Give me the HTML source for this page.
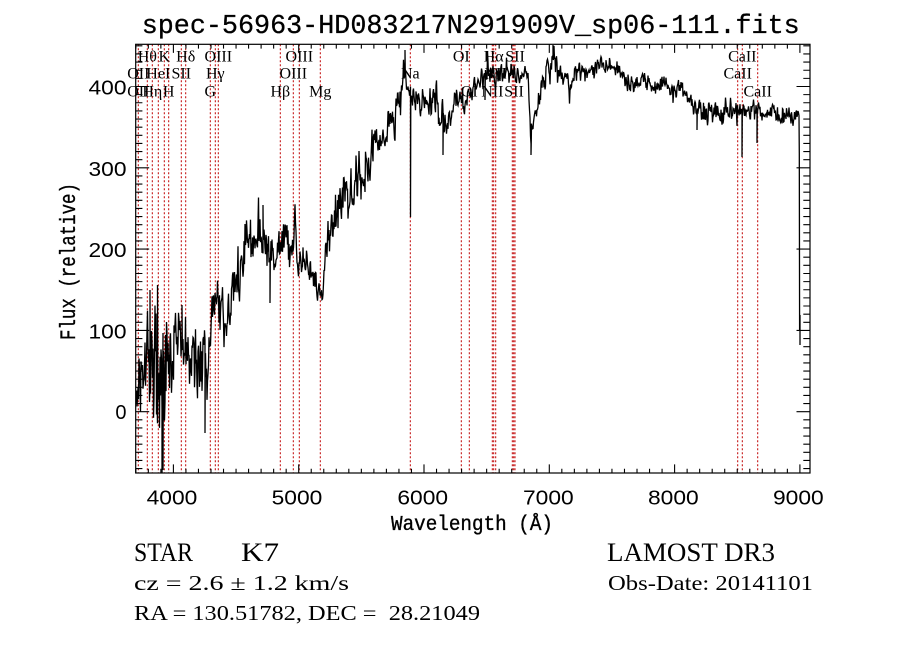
<!DOCTYPE html>
<html>
<head>
<meta charset="utf-8">
<style>
  html, body { margin: 0; padding: 0; background: #fff; }
  body { width: 900px; height: 649px; overflow: hidden; position: relative; }
  svg { position: absolute; left: 0; top: 0; }
  .mono { font-family: "Liberation Mono", monospace; fill: #000; }
  .sans { font-family: "Liberation Sans", sans-serif; fill: #000; }
  .serif { font-family: "Liberation Serif", serif; fill: #000; }
</style>
</head>
<body>
<svg id="chart" width="900" height="649" viewBox="0 0 900 649" xmlns="http://www.w3.org/2000/svg">
  <defs>
    <clipPath id="plotclip"><rect x="135.7" y="44.3" width="674.3" height="428.7"/></clipPath>
  </defs>
  <rect x="0" y="0" width="900" height="649" fill="#fff"/>

  <text class="mono" x="141.7" y="33" font-size="27" stroke="#000" stroke-width="0.3" textLength="658" lengthAdjust="spacingAndGlyphs">spec-56963-HD083217N291909V_sp06-111.fits</text>

  <g id="redlines" stroke="#c00000" stroke-width="1" stroke-dasharray="2,2" fill="none"></g>

  <g class="serif" font-size="16" text-anchor="middle">
    <text x="147.3" y="61.5">Hθ</text>
    <text x="164.3" y="61.5">K</text>
    <text x="185.7" y="61.5">Hδ</text>
    <text x="218.3" y="61.5">OIII</text>
    <text x="299.3" y="61.5">OIII</text>
    <text x="461.3" y="61.5">OI</text>
    <text x="493.7" y="61.5">Hα</text>
    <text x="515" y="61.5">SII</text>
    <text x="742.3" y="61.5">CaII</text>
    <text x="138.3" y="78.5">OII</text>
    <text x="158.3" y="78.5">HeI</text>
    <text x="181.3" y="78.5">SII</text>
    <text x="215.3" y="78.5">Hγ</text>
    <text x="293.3" y="78.5">OIII</text>
    <text x="410.3" y="78.5">Na</text>
    <text x="495.7" y="78.5">NII</text>
    <text x="737.7" y="78.5">CaII</text>
    <text x="138.3" y="96.5">OII</text>
    <text x="152.3" y="96.5">Hη</text>
    <text x="168.7" y="96.5">H</text>
    <text x="210.3" y="96.5">G</text>
    <text x="280.3" y="96.5">Hβ</text>
    <text x="320.3" y="96.5">Mg</text>
    <text x="469.3" y="96.5">OI</text>
    <text x="492.3" y="96.5">NII</text>
    <text x="514" y="96.5">SII</text>
    <text x="757.7" y="96.5">CaII</text>
  </g>

  <g clip-path="url(#plotclip)">
    <path id="spec" d="" fill="none" stroke="#000" stroke-width="1.3" stroke-linejoin="miter"/>
  </g>

  <rect x="135.7" y="44.3" width="674.3" height="428.7" fill="none" stroke="#000" stroke-width="1.2"/>
  <g id="ticks" stroke="#000" stroke-width="1.1" fill="none"></g>

  <g class="sans" font-size="20" text-anchor="end">
    <text x="126.5" y="419">0</text>
    <text x="126.5" y="338.3" textLength="38" lengthAdjust="spacingAndGlyphs">100</text>
    <text x="126.5" y="257.1" textLength="38" lengthAdjust="spacingAndGlyphs">200</text>
    <text x="126.5" y="175.8" textLength="38" lengthAdjust="spacingAndGlyphs">300</text>
    <text x="126.5" y="94.5" textLength="38" lengthAdjust="spacingAndGlyphs">400</text>
  </g>
  <g class="sans" font-size="20">
    <text x="146.6" y="504.5" textLength="50.7" lengthAdjust="spacingAndGlyphs">4000</text>
    <text x="271.6" y="504.5" textLength="50.7" lengthAdjust="spacingAndGlyphs">5000</text>
    <text x="397.4" y="504.5" textLength="50.7" lengthAdjust="spacingAndGlyphs">6000</text>
    <text x="523" y="504.5" textLength="50.7" lengthAdjust="spacingAndGlyphs">7000</text>
    <text x="648" y="504.5" textLength="50.7" lengthAdjust="spacingAndGlyphs">8000</text>
    <text x="773" y="504.5" textLength="50.7" lengthAdjust="spacingAndGlyphs">9000</text>
  </g>

  <text class="mono" x="391" y="530" font-size="21" stroke="#000" stroke-width="0.35" textLength="162" lengthAdjust="spacingAndGlyphs">Wavelength (Å)</text>
  <text class="mono" font-size="22" stroke="#000" stroke-width="0.35" text-anchor="middle" textLength="157" lengthAdjust="spacingAndGlyphs" transform="translate(75,261.5) rotate(-90)">Flux (relative)</text>

  <text class="serif" x="134" y="561" font-size="26" textLength="59" lengthAdjust="spacingAndGlyphs">STAR</text>
  <text class="serif" x="241" y="561" font-size="26" textLength="38" lengthAdjust="spacingAndGlyphs">K7</text>
  <text class="serif" x="607" y="561" font-size="26" textLength="168" lengthAdjust="spacingAndGlyphs">LAMOST DR3</text>
  <text class="serif" x="134" y="590" font-size="21" textLength="215" lengthAdjust="spacingAndGlyphs">cz = 2.6 ± 1.2 km/s</text>
  <text class="serif" x="608" y="590" font-size="21" textLength="205" lengthAdjust="spacingAndGlyphs">Obs-Date: 20141101</text>
  <text class="serif" x="134" y="620" font-size="21" textLength="346" lengthAdjust="spacingAndGlyphs" xml:space="preserve" style="white-space:pre">RA = 130.51782, DEC =  28.21049</text>
</svg>
<script>
(function(){
  var NS = "http://www.w3.org/2000/svg";
  var rl = document.getElementById("redlines");
  var lx = [138.3,147.3,152.3,158.3,164.3,168.7,181.3,185.7,210.3,215.3,218.3,280.3,293.3,299.3,320.3,410.3,461.3,469.3,492.3,493.7,495.7,512.3,513.7,515,737.7,742.3,757.7];
  lx.forEach(function(x){
    var l = document.createElementNS(NS,"line");
    l.setAttribute("x1",x); l.setAttribute("x2",x);
    l.setAttribute("y1",44.3); l.setAttribute("y2",473);
    rl.appendChild(l);
  });
  var tg = document.getElementById("ticks");
  var d = "";
  for (var v=-70; v<=450; v+=10){
    var y = 411.7 - v*0.813;
    var len = (v%100===0) ? 13.5 : 6.7;
    d += "M135.7,"+y.toFixed(2)+"h"+len+"M810,"+y.toFixed(2)+"h"+(-len);
  }
  for (var w=3700; w<=9000; w+=100){
    var x = 298.7 + (w-5000)*0.1253;
    var ln = (w%1000===0) ? 8.6 : 4.3;
    d += "M"+x.toFixed(2)+",473v"+(-ln)+"M"+x.toFixed(2)+",44.3v"+ln;
  }
  var tp = document.createElementNS(NS,"path");
  tp.setAttribute("d",d);
  tg.appendChild(tp);

  var A = [
    [136,392,22],[140,370,30],[148,370,42],[155,380,52],[165,385,52],[172,352,32],
    [180,335,28],[187,355,28],[200,365,30],[209,370,28],[211,320,18],[215,305,22],
    [225,310,25],[233,290,26],[242,262,24],[250,245,22],[258,232,22],[263,240,22],
    [270,262,20],[278,252,15],[288,245,20],[296,240,22],[300,262,18],[310,270,15],
    [318,280,14],[322,298,10],[326,250,24],[335,218,28],[345,190,27],[355,180,24],
    [365,163,22],[375,150,19],[385,135,16],[395,122,15],[400,85,17],[406,72,14],
    [409,90,12],[412,100,13],[420,100,16],[430,105,18],[440,112,19],[450,115,15],
    [457,102,10],[465,98,12],[475,82,12],[490,75,10],[510,72,10],[528,75,9],[531,140,12],
    [535,115,12],[545,80,12],[553,60,11],[560,70,9],[570,85,9],[580,72,8],[600,67,7],
    [618,68,7],[630,85,9],[645,82,8],[660,85,8],[680,87,8],[690,100,6],[700,112,11],
    [720,112,11],[740,113,11],[760,112,9],[797,115,7],[799,115,2]
  ];
  var F = [[150,290],[157.5,285],[162,478],[163,470],[182,305],[205,433],[263,205],[270,303],
           [405,50],[410.5,217],[443,155],[485,100],[531,155],[553,45],[697,130],[742,157],[757,143]];
  function interp(x){
    for (var i=0;i<A.length-1;i++){
      if (x>=A[i][0] && x<=A[i+1][0]){
        var t=(x-A[i][0])/(A[i+1][0]-A[i][0]);
        return [A[i][1]+t*(A[i+1][1]-A[i][1]), A[i][2]+t*(A[i+1][2]-A[i][2])];
      }
    }
    return [A[A.length-1][1],A[A.length-1][2]];
  }
  var seed = 987654321;
  function rnd(){ seed = (seed*1103515245 + 12345) % 2147483648; return seed/2147483648; }
  var step = 0.5;
  var p = "M136,392";
  var prev = 0;
  for (var x=136; x<=799; x+=step){
    var mv = interp(x);
    var nw = (rnd()+rnd()+rnd()-1.5)*mv[1]*1.25;
    if (rnd()<0.03) nw *= 1.9;
    var n = 0.4*prev + 0.85*nw;
    prev = n;
    var y = mv[0]+n;
    p += "L"+x.toFixed(2)+","+y.toFixed(1);
    for (var k=0;k<F.length;k++){
      if (F[k][0]>=x && F[k][0]<x+step){
        p += "L"+F[k][0].toFixed(2)+","+F[k][1]+"L"+(F[k][0]+0.3).toFixed(2)+","+(mv[0]).toFixed(1);
      }
    }
  }
  p += "L799.3,153L799.6,330L800,315L800,345";
  document.getElementById("spec").setAttribute("d",p);
})();
</script>
</body>
</html>
